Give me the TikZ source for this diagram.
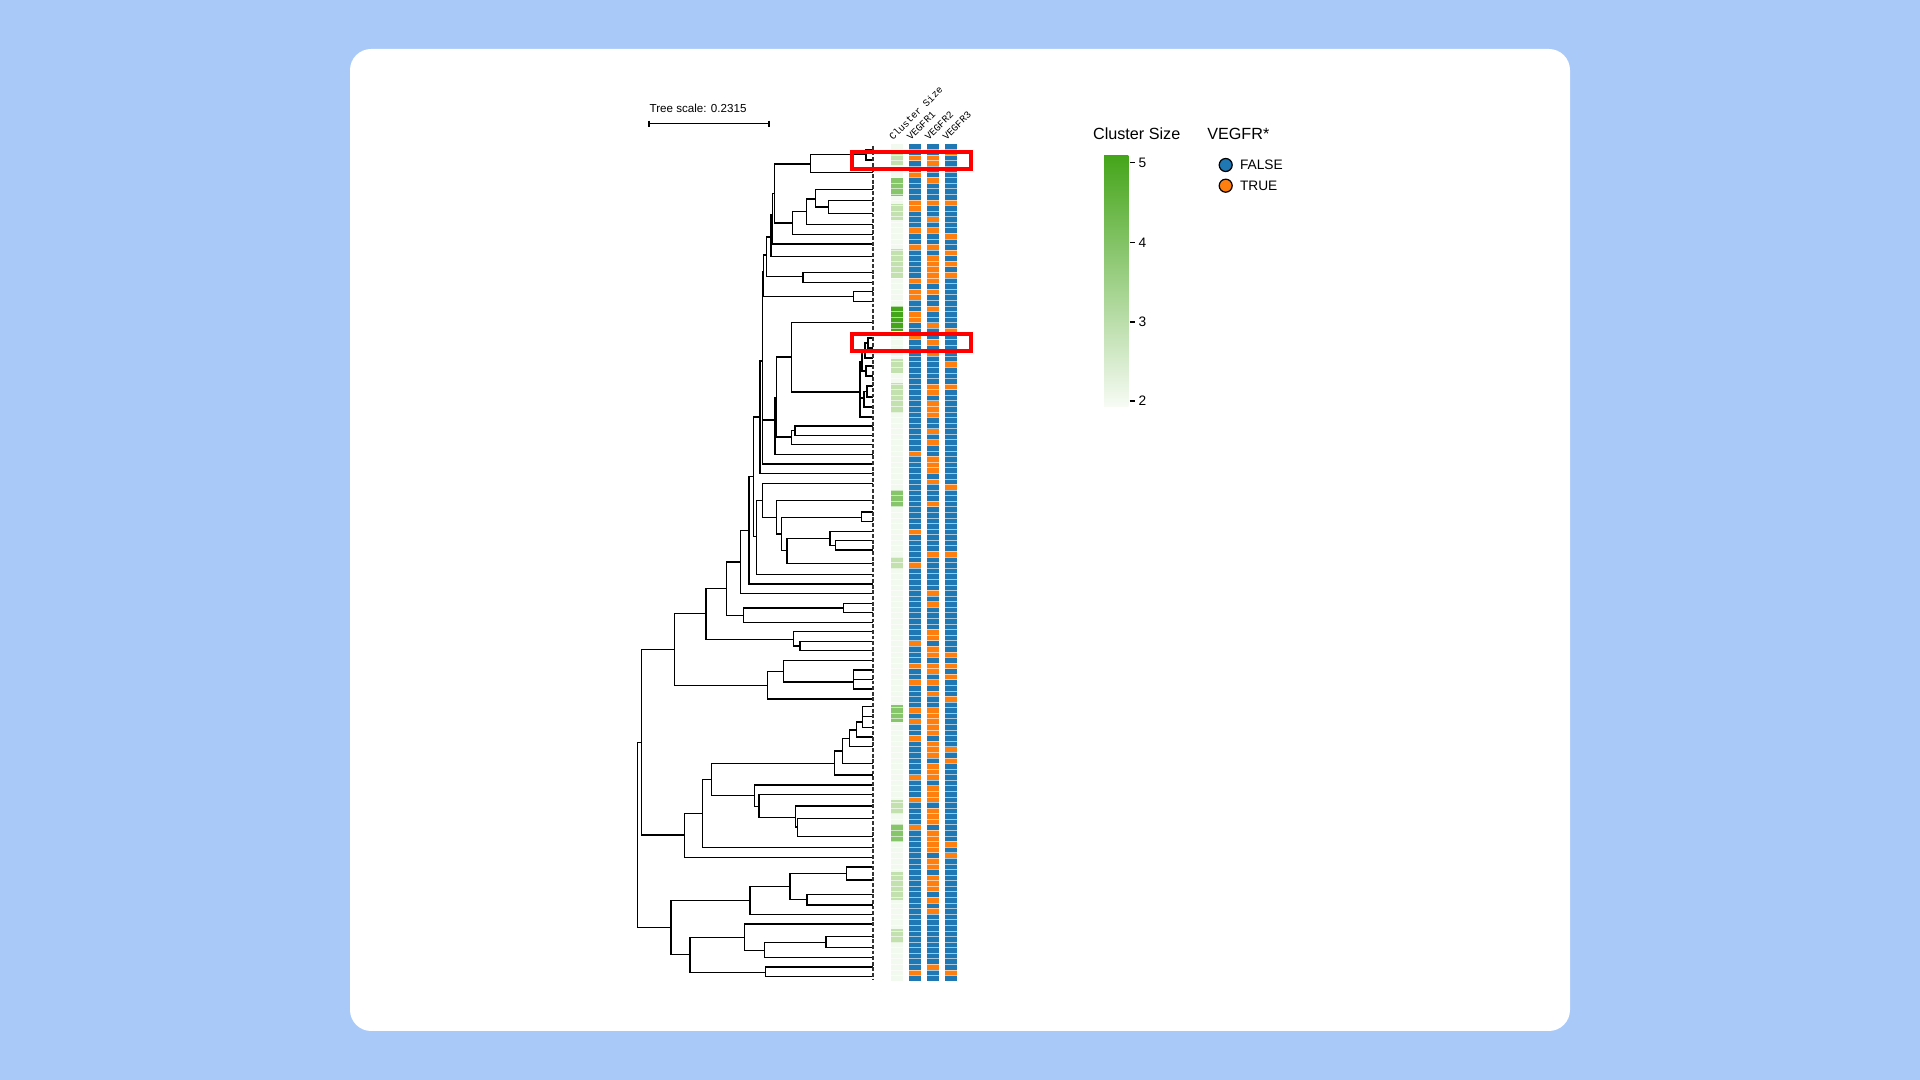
\documentclass[tikz,border=0pt]{standalone}
\usepackage{fontspec}
\setmainfont{Liberation Sans}
\setmonofont{Liberation Mono}
\definecolor{bgblue}{HTML}{A9C9F9}
\definecolor{vblue}{HTML}{1F77B4}
\definecolor{vorange}{HTML}{FF7F0E}
\definecolor{csz2}{HTML}{F2F9EE}
\definecolor{csz3}{HTML}{C2E1AE}
\definecolor{csz4}{HTML}{86C56A}
\definecolor{csz5}{HTML}{45A51A}
\tikzset{
  branch/.style={line width=0.4pt, black},
  hilite/.style={draw=red, line width=1.2pt},
  colhead/.style={anchor=south west, rotate=45, inner sep=0pt, font=\fontsize{2.8}{3.3}\selectfont\ttfamily},
  legtitle/.style={font=\fontsize{4.6}{5}\selectfont},
  leglabel/.style={font=\fontsize{3.9}{4.5}\selectfont, anchor=west, inner sep=0pt},
}
\newcommand{\tip}[2]{\draw[branch] (#1) |- (873,#2);}
\newcommand{\edge}[2]{\draw[branch] (#1) |- (#2);}
\begin{document}
\begin{tikzpicture}[x=0.01cm,y=-0.01cm]
\useasboundingbox (0,0) rectangle (1920,1080);
\fill[bgblue] (0,0) rectangle (1920,1080);
\fill[white, rounded corners=6pt] (350,49) rectangle (1570,1031);

% tree scale
\node[anchor=south west, inner sep=0pt, font=\fontsize{3.3}{4}\selectfont] (scale) at (649,113) {Tree scale: 0.2315};
\draw[line width=0.4pt] (649,123.7) -- (769,123.7);
\draw[line width=0.4pt] (649,120.7) -- (649,126.7) (769,120.7) -- (769,126.7);

% internal nodes
\coordinate (a1) at (866,154.7);  \coordinate (a2) at (810.3,164);
\coordinate (b1) at (828.3,207);  \coordinate (b2) at (815.7,199);
\coordinate (b3) at (806.7,211.3);\coordinate (b4) at (792.7,223);
\coordinate (c1) at (774.3,193.3);\coordinate (c2) at (772.7,215);
\coordinate (c3) at (771,237);    \coordinate (d1) at (803,276.7);
\coordinate (c4) at (766.7,255);  \coordinate (e1) at (853.7,296.3);
\coordinate (c5) at (763.3,272);
\coordinate (f1) at (868,343);    \coordinate (f2) at (865,352);
\coordinate (f3) at (866,371);    \coordinate (f4) at (862,362);
\coordinate (f5) at (867,391.5);  \coordinate (f6) at (864,398);
\coordinate (ff) at (860,392);    \coordinate (fb) at (791.7,357);
\coordinate (h1) at (795,430.7);  \coordinate (h2) at (791.3,437);
\coordinate (h3) at (776.7,398);  \coordinate (h4) at (775,420);
\coordinate (c7) at (762.7,361);  \coordinate (c8) at (760,417);
\coordinate (p695) at (861.7,517.7); \coordinate (p617) at (835.7,545.3);
\coordinate (p600) at (830,538.7);   \coordinate (p471) at (787,550.7);
\coordinate (p455) at (781.7,534);   \coordinate (p440) at (776.7,517.7);
\coordinate (p397) at (762.3,500.7); \coordinate (p380) at (756.7,536.7);
\coordinate (p368) at (753.3,476.7); \coordinate (p357) at (749,530.7);
\coordinate (p331) at (740.3,562);   \coordinate (p640) at (843.3,608);
\coordinate (p340) at (743.3,615.3); \coordinate (p290) at (726.7,588.3);
\coordinate (p510) at (800,646);     \coordinate (p491) at (793.7,639.3);
\coordinate (p228) at (706,613.7);   \coordinate (p671) at (853.7,682);
\coordinate (p461) at (783.7,671.7); \coordinate (p413) at (767.7,685.3);
\coordinate (p133) at (674.3,649.3);
\coordinate (p697) at (862.3,722);   \coordinate (p680) at (856.7,730);
\coordinate (p658) at (849.3,738.3); \coordinate (p638) at (842.7,751);
\coordinate (p613) at (834.3,763.7); \coordinate (p503) at (797.7,827);
\coordinate (p497) at (795.7,817.7); \coordinate (p387) at (759,806.7);
\coordinate (p373) at (754.3,795.7); \coordinate (p245) at (711.7,779.3);
\coordinate (p217) at (702.3,813.3); \coordinate (p163) at (684.3,835);
\coordinate (p35) at (641.7,742.7);
\coordinate (p650) at (846.7,873.3); \coordinate (p531) at (807,899.7);
\coordinate (p480) at (790,886.7);   \coordinate (p360) at (750,900.7);
\coordinate (p588) at (826,942.7);   \coordinate (p403) at (764.3,950.3);
\coordinate (p343) at (744.3,937.3); \coordinate (p407) at (765.7,972.3);
\coordinate (p180) at (690,954.3);   \coordinate (p123) at (671,927.3);
\coordinate (root) at (637.3,835);

% upper clades
\tip{a1}{149.3} \tip{a1}{160} \edge{a2}{a1} \tip{a2}{172.3}
\tip{b1}{200.7} \tip{b1}{213.3} \tip{b2}{189.3} \edge{b2}{b1}
\edge{b3}{b2} \tip{b3}{224.7} \edge{b4}{b3} \tip{b4}{234.3}
\edge{c1}{a2} \edge{c1}{b4} \edge{c2}{c1} \tip{c2}{244}
\edge{c3}{c2} \tip{c3}{256.7} \tip{d1}{272.3} \tip{d1}{282.3}
\edge{c4}{c3} \edge{c4}{d1} \tip{e1}{291.7} \tip{e1}{301.3}
\edge{c5}{c4} \edge{c5}{e1}
\tip{f1}{338} \tip{f1}{348} \edge{f2}{f1} \tip{f2}{358}
\tip{f3}{366} \tip{f3}{376} \edge{f4}{f2} \edge{f4}{f3}
\tip{f5}{386} \tip{f5}{397} \edge{f6}{f5} \tip{f6}{407}
\edge{ff}{f4} \edge{ff}{f6} \tip{ff}{417}
\tip{fb}{322.7} \edge{fb}{ff}
\tip{h1}{426} \tip{h1}{435.3} \edge{h2}{h1} \tip{h2}{444.7}
\edge{h3}{fb} \edge{h3}{h2} \edge{h4}{h3} \tip{h4}{454.3}
\edge{c7}{c5} \edge{c7}{h4} \tip{c7}{464} \edge{c8}{c7} \tip{c8}{473.3}
% middle clades
\tip{p695}{512} \tip{p695}{521.7} \tip{p617}{540.7} \tip{p617}{550}
\tip{p600}{531.3} \edge{p600}{p617} \edge{p471}{p600} \tip{p471}{563.3}
\edge{p455}{p695} \edge{p455}{p471} \tip{p440}{500.7} \edge{p440}{p455}
\tip{p397}{483.3} \edge{p397}{p440} \edge{p380}{p397} \tip{p380}{574.3}
\edge{p368}{c8} \edge{p368}{p380} \edge{p357}{p368} \tip{p357}{584}
\edge{p331}{p357} \tip{p331}{593.7}
\tip{p640}{603.3} \tip{p640}{612.7} \edge{p340}{p640} \tip{p340}{622.3}
\edge{p290}{p331} \edge{p290}{p340}
\tip{p510}{641.3} \tip{p510}{650.7} \tip{p491}{631.7} \edge{p491}{p510}
\edge{p228}{p290} \edge{p228}{p491}
\tip{p671}{670} \tip{p671}{679.3} \tip{p671}{689}
\tip{p461}{660.3} \edge{p461}{p671} \edge{p413}{p461} \tip{p413}{699}
\edge{p133}{p228} \edge{p133}{p413}
% lower clades
\tip{p697}{706.7} \tip{p697}{716.7} \tip{p697}{727.3}
\edge{p680}{p697} \tip{p680}{737} \edge{p658}{p680} \tip{p658}{746.7}
\edge{p638}{p658} \tip{p638}{763.7} \edge{p613}{p638} \tip{p613}{775}
\tip{p503}{818.7} \tip{p503}{836.3} \tip{p497}{806} \edge{p497}{p503}
\tip{p387}{794.7} \edge{p387}{p497} \tip{p373}{785} \edge{p373}{p387}
\edge{p245}{p613} \edge{p245}{p373} \edge{p217}{p245} \tip{p217}{847.3}
\edge{p163}{p217} \tip{p163}{857.3} \edge{p35}{p133} \edge{p35}{p163}
\tip{p650}{867} \tip{p650}{880} \tip{p531}{894.3} \tip{p531}{905}
\edge{p480}{p650} \edge{p480}{p531} \edge{p360}{p480} \tip{p360}{914.7}
\tip{p588}{936.7} \tip{p588}{947.7} \edge{p403}{p588} \tip{p403}{957.3}
\tip{p343}{924} \edge{p343}{p403} \tip{p407}{967} \tip{p407}{976.7}
\edge{p180}{p343} \edge{p180}{p407} \edge{p123}{p360} \edge{p123}{p180}
\edge{root}{p35} \edge{root}{p123}
\draw[line width=0.4pt, black!80, dash pattern=on 1.1pt off 0.5pt] (873,146) -- (873,980);

% heatmap columns
\fill[csz2] (890.7,144) rectangle (903.3,981);
\foreach \ya/\yb/\c in {153/165/3,204.5/220/3,248.6/278/3,359/373.5/3,383/412.7/3,557/569/3,799.6/814/3,872/900/3,929.4/943/3,
  177.6/196/4,490/507/4,705/722.5/4,824/842.5/4,306/330.6/5}
  \fill[csz\c] (890.7,\ya) rectangle (903.3,\yb);
\fill[vblue] (909,144) rectangle (921,981);
\fill[vblue] (927,144) rectangle (939,981);
\fill[vblue] (945,144) rectangle (957,981);
\pgfmathsetseed{17}
\foreach \i in {0,...,149}{
  \pgfmathsetmacro{\ya}{144+\i*5.58}
  \pgfmathsetmacro{\yb}{\ya+5.58}
  \pgfmathsetmacro{\ra}{rnd}
  \pgfmathsetmacro{\rb}{rnd}
  \pgfmathsetmacro{\rc}{rnd}
  \pgfmathsetmacro{\pb}{((\i>17 && \i<62) || (\i>85 && \i<140)) ? 0.62 : 0.22}
  \ifdim\ra pt<0.16pt \fill[vorange] (909,\ya) rectangle (921,\yb); \fi
  \ifdim\rb pt<\pb pt \fill[vorange] (927,\ya) rectangle (939,\yb); \fi
  \ifdim\rc pt<0.11pt \fill[vorange] (945,\ya) rectangle (957,\yb); \fi
}
\foreach \i in {1,...,149}
  \draw[white, opacity=0.6, line width=0.15pt] (890.7,144+\i*5.58) -- (957,144+\i*5.58);

% column headers
\node[colhead] (hcs) at (893.3,141.7) {Cluster Size};
\node[colhead] (hv1) at (911,141.7) {VEGFR1};
\node[colhead] (hv2) at (929,141.7) {VEGFR2};
\node[colhead] (hv3) at (946.7,141.7) {VEGFR3};

% highlights
\draw[hilite] (852,152) rectangle (971,169);
\draw[hilite] (852,334) rectangle (971,351);

% legend
\node[legtitle] (ltcs) at (1136.7,134) {Cluster Size};
\node[legtitle] (ltv) at (1238.3,134) {VEGFR*};
\shade[top color=csz5, bottom color=csz2!60!white] (1104,156) rectangle (1128.3,406.7);
\foreach \v/\y in {5/162.7,4/242.3,3/322,2/401}{
  \draw[line width=0.4pt] (1129.5,\y) -- (1135,\y);
  \node[leglabel] (lt\v) at (1138,\y) {\v};
}
\filldraw[fill=vblue, draw=black, line width=0.35pt] (1225.7,165) circle (6.5);
\filldraw[fill=vorange, draw=black, line width=0.35pt] (1225.7,185.7) circle (6.5);
\node[leglabel] (lfalse) at (1239.3,165) {FALSE};
\node[leglabel] (ltrue) at (1239.3,185.7) {TRUE};
\end{tikzpicture}
\end{document}
